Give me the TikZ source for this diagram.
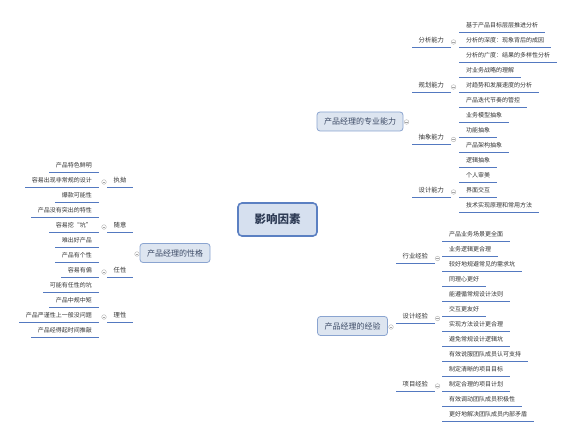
\documentclass[tikz,border=0pt]{standalone}
\usepackage{fontspec}
\setmainfont{Noto Sans CJK SC}
\definecolor{txt}{HTML}{333333}
\definecolor{ulc}{HTML}{5479C0}
\definecolor{brc}{HTML}{9DB0D2}
\definecolor{mainc}{HTML}{B3BDCE}
\definecolor{boxfill}{HTML}{DDE5F0}
\definecolor{boxdraw}{HTML}{8AA4D0}
\definecolor{boxtxt}{HTML}{3D4B66}
\definecolor{cfill}{HTML}{D6E0EF}
\definecolor{cdraw}{HTML}{5B80C2}
\definecolor{ctxt}{HTML}{2E3B55}
\pgfdeclarelayer{bg}
\pgfsetlayers{bg,main}
\newcommand\elbowR[3][5pt]{\draw[br,rounded corners=#1] (#2.center) -- (#2.center -| #3.south west) -- (#3.south west) -- ([xshift=6pt]#3.south west);}
\newcommand\elbowL[3][5pt]{\draw[br,rounded corners=#1] (#2.center) -- (#2.center -| #3.south east) -- (#3.south east) -- ([xshift=-6pt]#3.south east);}
\begin{document}
\begin{tikzpicture}[x=1pt,y=-1pt,
  ul/.style={draw=ulc,line width=0.9pt},
  br/.style={draw=brc,line width=0.7pt},
  maincurve/.style={draw=mainc,line width=0.8pt},
  leaf/.style={font=\fontsize{6}{7}\selectfont, text=txt, inner xsep=7pt, inner ysep=3.5pt,
    text height=4.6pt, text depth=1.2pt,
    append after command={(\tikzlastnode.south west) edge[ul] (\tikzlastnode.south east)}},
  leafR/.style={leaf, anchor=south west},
  leafL/.style={leaf, anchor=south east, inner xsep=6.5pt},
  midR/.style={leaf, anchor=south west, font=\fontsize{6.3}{7}\selectfont, inner xsep=6.5pt},
  midL/.style={leaf, anchor=south east, font=\fontsize{6.3}{7}\selectfont, inner xsep=6.5pt},
  topic/.style={draw=boxdraw, fill=boxfill, line width=0.8pt, rounded corners=3pt,
    font=\fontsize{8}{9}\selectfont, text=boxtxt, inner xsep=7pt, minimum height=19pt},
  centre/.style={draw=cdraw, fill=cfill, line width=1.6pt, rounded corners=4pt,
    font=\fontsize{11.5}{13}\selectfont\bfseries, text=ctxt, minimum width=79pt, minimum height=33pt},
  coll/.style={circle, draw=gray!60, fill=white, line width=0.4pt, minimum size=4.6pt, inner sep=0pt,
    path picture={\draw[gray!70,line width=0.4pt] ([xshift=1.1pt]path picture bounding box.west) -- ([xshift=-1.1pt]path picture bounding box.east);}}
]
\fill[white] (0,0) rectangle (565,441);
\useasboundingbox (0,0) rectangle (565,441);

% central and main topics
\node[centre] (K) at (277.5,219.5) {影响因素};
\node[topic] (P) at (360,121.5) {产品经理的专业能力};
\node[topic] (E) at (352.5,326) {产品经理的经验};
\node[topic] (L) at (175,253) {产品经理的性格};

% ---------- professional ability ----------
\node[midR] (A1) at (412,47) {分析能力};
\node[midR] (A2) at (412,92) {规划能力};
\node[midR] (A3) at (412,144.5) {抽象能力};
\node[midR] (A4) at (412,197) {设计能力};

\node[leafR] (a11) at (459,32) {基于产品目标层层推进分析};
\node[leafR] (a12) at (459,47) {分析的深度：现象背后的成因};
\node[leafR] (a13) at (459,62) {分析的广度：结果的多样性分析};
\node[leafR] (a21) at (459,77) {对业务战略的理解};
\node[leafR] (a22) at (459,92) {对趋势和发展速度的分析};
\node[leafR] (a23) at (459,107) {产品迭代节奏的管控};
\node[leafR] (a31) at (459,122) {业务模型抽象};
\node[leafR] (a32) at (459,137) {功能抽象};
\node[leafR] (a33) at (459,152) {产品架构抽象};
\node[leafR] (a34) at (459,167) {逻辑抽象};
\node[leafR] (a41) at (459,182) {个人审美};
\node[leafR] (a42) at (459,197) {界面交互};
\node[leafR] (a43) at (459,212) {技术实现原理和常用方法};

% ---------- experience ----------
\node[midR] (B1) at (396,263.5) {行业经验};
\node[midR] (B2) at (396,323.5) {设计经验};
\node[midR] (B3) at (396,391) {项目经验};

\node[leafR] (b11) at (442,241) {产品业务场景更全面};
\node[leafR] (b12) at (442,256) {业务逻辑更合理};
\node[leafR] (b13) at (442,271) {较好地规避常见的需求坑};
\node[leafR] (b14) at (442,286) {同理心更好};
\node[leafR] (b21) at (442,301) {能遵循常规设计法则};
\node[leafR] (b22) at (442,316) {交互更友好};
\node[leafR] (b23) at (442,331) {实现方法设计更合理};
\node[leafR] (b24) at (442,346) {避免常规设计逻辑坑};
\node[leafR] (b31) at (442,361) {有效说服团队成员认可支持};
\node[leafR] (b32) at (442,376) {制定清晰的项目目标};
\node[leafR] (b33) at (442,391) {制定合理的项目计划};
\node[leafR] (b34) at (442,406) {有效调动团队成员积极性};
\node[leafR] (b35) at (442,421) {更好地解决团队成员内部矛盾};

% ---------- character ----------
\node[midL] (C1) at (133,187) {执拗};
\node[midL] (C2) at (133,232) {随意};
\node[midL] (C3) at (133,277) {任性};
\node[midL] (C4) at (133,322) {理性};

\node[leafL] (c11) at (98.5,172) {产品特色鲜明};
\node[leafL] (c12) at (98.5,187) {容易出现非常规的设计};
\node[leafL] (c13) at (98.5,202) {爆款可能性};
\node[leafL] (c21) at (98.5,217) {产品没有突出的特性};
\node[leafL] (c22) at (98.5,232) {容易挖“坑”};
\node[leafL] (c23) at (98.5,247) {难出好产品};
\node[leafL] (c31) at (98.5,262) {产品有个性};
\node[leafL] (c32) at (98.5,277) {容易有偏};
\node[leafL] (c33) at (98.5,292) {可能有任性的坑};
\node[leafL] (c41) at (98.5,307) {产品中规中矩};
\node[leafL] (c42) at (98.5,322) {产品严谨性上一般没问题};
\node[leafL] (c43) at (98.5,337) {产品经得起时间推敲};

% collapse buttons
\node[coll] (cP) at (406.5,122) {};
\node[coll] (cE) at (391,327) {};
\node[coll] (cL) at (137,254) {};
\node[coll] (cA1) at (453.5,42) {};
\node[coll] (cA2) at (453.5,87) {};
\node[coll] (cA3) at (453.5,139.5) {};
\node[coll] (cA4) at (453.5,192) {};
\node[coll] (cB1) at (437.5,258.5) {};
\node[coll] (cB2) at (437.5,318.5) {};
\node[coll] (cB3) at (437.5,386) {};
\node[coll] (cC1) at (104,182) {};
\node[coll] (cC2) at (104,227) {};
\node[coll] (cC3) at (104,272) {};
\node[coll] (cC4) at (104,317) {};

\begin{pgfonlayer}{bg}
% centre to main topics
\draw[maincurve] ([xshift=10pt]K.north) .. controls (288,150) and (298,121.5) .. (P.west);
\draw[maincurve] ([xshift=10pt]K.south) .. controls (288,292) and (298,326) .. (E.west);
\draw[maincurve] ([xshift=-32pt]K.south) .. controls (244,250) and (226,253) .. (L.east);

% main topics to sub topics
\elbowR[5pt]{cP}{A1} \elbowR[5pt]{cP}{A2} \elbowR[5pt]{cP}{A3} \elbowR[5pt]{cP}{A4}
\elbowR[5pt]{cE}{B1} \elbowR[1.5pt]{cE}{B2} \elbowR[5pt]{cE}{B3}
\elbowL[4pt]{cL}{C1} \elbowL[4pt]{cL}{C2} \elbowL[4pt]{cL}{C3} \elbowL[4pt]{cL}{C4}

% sub topics to leaves
\foreach \p/\l in {cA1/a11,cA1/a12,cA1/a13,cA2/a21,cA2/a22,cA2/a23,cA3/a31,cA3/a32,cA3/a33,cA3/a34,cA4/a41,cA4/a42,cA4/a43,
  cB1/b11,cB1/b12,cB1/b13,cB1/b14,cB2/b21,cB2/b22,cB2/b23,cB2/b24,cB3/b31,cB3/b32,cB3/b33,cB3/b34,cB3/b35}
  {\elbowR[2pt]{\p}{\l}}
\foreach \p/\l in {cC1/c11,cC1/c12,cC1/c13,cC2/c21,cC2/c22,cC2/c23,cC3/c31,cC3/c32,cC3/c33,cC4/c41,cC4/c42,cC4/c43}
  {\elbowL[2pt]{\p}{\l}}
% sub topic underline to its button
\foreach \m/\c in {A1/cA1,A2/cA2,A3/cA3,A4/cA4,B1/cB1,B2/cB2,B3/cB3}
  {\draw[br] (\m.south east) -- (\c.center);}
\foreach \m/\c in {C1/cC1,C2/cC2,C3/cC3,C4/cC4}
  {\draw[br] (\m.south west) -- (\c.center);}
\end{pgfonlayer}
\end{tikzpicture}
\end{document}
